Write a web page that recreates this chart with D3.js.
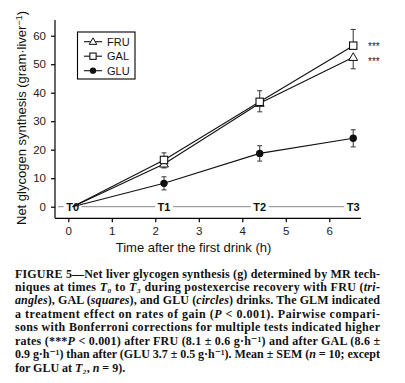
<!DOCTYPE html>
<html><head><meta charset="utf-8">
<script src="https://cdn.jsdelivr.net/npm/d3@7"></script>
<style>body{margin:0;background:#fff}svg{display:block}</style>
</head><body>
<script>
const times = [0.1, 2.2, 4.4, 6.55];
const timeLabels = ["T0","T1","T2","T3"];
const fruMean = [0, 15.0, 36.3, 52.4];
const fruSem  = [0, 1.4, 3.0, 4.0];
const galMean = [0, 16.4, 36.8, 56.5];
const galSem  = [0, 2.5, 3.9, 5.7];
const gluMean = [0, 8.2, 18.7, 24.0];
const gluSem  = [0, 2.3, 2.7, 3.0];
const xTicks = [0,1,2,3,4,5,6];
const yTicks = [0,10,20,30,40,50,60];
const legendNames = ["FRU","GAL","GLU"];

const W=405,H=383;
const svg=d3.select("body").append("svg").attr("width",W).attr("height",H);
const x=d3.scaleLinear().domain([0,6]).range([68.3,329.3]);
const y=d3.scaleLinear().domain([0,60]).range([206.7,35.7]);
const xMin=x.invert(55), xMax=x.invert(361), yMin=y.invert(218.3), yMax=y.invert(20);

const font="Liberation Sans, Arial, sans-serif";
// axes
const gx=svg.append("g").attr("transform",`translate(0,${y(yMin)})`)
  .call(d3.axisBottom(x).tickValues(xTicks).tickFormat(d3.format("d")).tickSize(4).tickPadding(5).tickSizeOuter(0));
gx.select(".domain").attr("d",`M${x(xMin)},0H${x(xMax)}`);
const gy=svg.append("g").attr("transform",`translate(${x(xMin)},0)`)
  .call(d3.axisLeft(y).tickValues(yTicks).tickFormat(d3.format("d")).tickSize(4).tickPadding(5).tickSizeOuter(0));
gy.select(".domain").attr("d",`M0,${y(yMax)}V${y(yMin)}`);
svg.selectAll(".tick text").attr("font-family",font).attr("font-size",11.5).attr("fill","#222");
svg.selectAll(".domain,.tick line").attr("stroke","#000").attr("stroke-width",1.2);

// axis titles
svg.append("text").attr("x",193.5).attr("y",252).attr("text-anchor","middle")
  .attr("font-family",font).attr("font-size",13).attr("fill","#111").text("Time after the first drink (h)");
const yl=svg.append("text").attr("transform",`translate(26,118) rotate(-90)`).attr("text-anchor","middle")
  .attr("font-family",font).attr("font-size",13).attr("fill","#111");
yl.append("tspan").text("Net glycogen synthesis (gram·liver");
yl.append("tspan").attr("dy",-4).attr("font-size",9).text("−1");
yl.append("tspan").attr("dy",4).text(")");

// zero reference line with time labels
svg.append("line").attr("x1",x(xMin)+3).attr("x2",x(6.65)).attr("y1",y(0)).attr("y2",y(0))
  .attr("stroke","#888").attr("stroke-width",1);
const tl=svg.append("g").selectAll("g").data(timeLabels).join("g")
  .attr("transform",(d,i)=>`translate(${x(times[i])},${y(0)})`);
tl.append("rect").attr("x",-9).attr("y",-6).attr("width",18).attr("height",12).attr("fill","#fff");
tl.append("text").attr("text-anchor","middle").attr("dy","0.36em").attr("font-family",font)
  .attr("font-weight","bold").attr("font-size",11).attr("fill","#111").text(d=>d);

// series
const series=[
 {name:"FRU",m:fruMean,s:fruSem,dir:-1,sym:"tri"},
 {name:"GAL",m:galMean,s:galSem,dir:1,sym:"sq"},
 {name:"GLU",m:gluMean,s:gluSem,dir:0,sym:"circ"}];
const line=d3.line().x((d,i)=>x(times[i])).y(d=>y(d));
series.forEach(sr=>{
  svg.append("path").attr("d",line(sr.m)).attr("fill","none").attr("stroke","#111").attr("stroke-width",1.1);
});
// error bars
series.forEach(sr=>{
  const g=svg.append("g").attr("stroke","#444").attr("stroke-width",1.1);
  sr.m.forEach((v,i)=>{
    if(i===0) return;
    const px=x(times[i]);
    const ends=[];
    if(sr.dir>=0) ends.push(v+sr.s[i]);
    if(sr.dir<=0) ends.push(v-sr.s[i]);
    ends.forEach(e=>{
      g.append("line").attr("x1",px).attr("x2",px).attr("y1",y(v)).attr("y2",y(e));
      g.append("line").attr("x1",px-2.5).attr("x2",px+2.5).attr("y1",y(e)).attr("y2",y(e));
    });
  });
});
function drawSym(g,sym,cx,cy,scale){
  const k=scale||1;
  if(sym==="tri") g.append("path").attr("d",d3.symbol(d3.symbolTriangle,34*k*k)()).attr("transform",`translate(${cx},${cy+0.5})`)
     .attr("fill","#fff").attr("stroke","#111").attr("stroke-width",1);
  else if(sym==="sq") g.append("rect").attr("x",cx-3.7*k).attr("y",cy-3.7*k).attr("width",7.4*k).attr("height",7.4*k)
     .attr("fill","#fff").attr("stroke","#111").attr("stroke-width",1.1);
  else g.append("circle").attr("cx",cx).attr("cy",cy).attr("r",3.7*k).attr("fill","#111");
}
[series[2],series[0],series[1]].forEach(sr=>{
  const g=svg.append("g");
  sr.m.forEach((v,i)=>{ if(i>0) drawSym(g,sr.sym,x(times[i]),y(v)); });
});
// significance stars
svg.append("text").attr("x",368).attr("y",y(galMean[3])+4).attr("font-family",font).attr("font-size",10).attr("fill","#222").text("***");
svg.append("text").attr("x",368).attr("y",y(fruMean[3])+8).attr("font-family",font).attr("font-size",10).attr("fill","#222").text("***");

// legend
const lg=svg.append("g");
lg.append("rect").attr("x",77.5).attr("y",32).attr("width",57.5).attr("height",47).attr("fill","#fff").attr("stroke","#000").attr("stroke-width",1.1);
legendNames.forEach((n,i)=>{
  const cy=41.7+i*14.5;
  lg.append("line").attr("x1",84).attr("x2",102).attr("y1",cy).attr("y2",cy).attr("stroke","#111").attr("stroke-width",1.1);
  drawSym(lg,series[i].sym,93,cy,0.85);
  lg.append("text").attr("x",107).attr("y",cy).attr("dy","0.36em").attr("font-family",font).attr("font-size",11).attr("fill","#111").text(n);
});

// caption
const cap=svg.append("g").attr("font-family","Liberation Serif, DejaVu Serif, serif").attr("font-weight","bold").attr("font-size",12).attr("fill","#111");
const lines=[
 [["FIGURE 5—Net liver glycogen synthesis (g) determined by MR tech-"]],
 [["niques at times "],["T₀","i"],[" to "],["T₃","i"],[" during postexercise recovery with FRU ("],["tri-","i"]],
 [["angles","i"],["), GAL ("],["squares","i"],["), and GLU ("],["circles","i"],[") drinks. The GLM indicated"]],
 [["a treatment effect on rates of gain ("],["P","i"],[" < 0.001). Pairwise compari-"]],
 [["sons with Bonferroni corrections for multiple tests indicated higher"]],
 [["rates (***"],["P","i"],[" < 0.001) after FRU (8.1 ± 0.6 g·h⁻¹) and after GAL (8.6 ±"]],
 [["0.9 g·h⁻¹) than after (GLU 3.7 ± 0.5 g·h⁻¹). Mean ± SEM ("],["n","i"],[" = 10; except"]],
 [["for GLU at "],["T₂","i"],[", "],["n","i"],[" = 9)."]]
];
lines.forEach((ln,li)=>{
  const t=cap.append("text").attr("x",15).attr("y",277.5+li*13.45);
  if(li<7) t.attr("textLength",365).attr("lengthAdjust","spacing");
  ln.forEach(([s,st])=>{
    const ts=t.append("tspan").text(s);
    if(st==="i") ts.attr("font-style","italic");
  });
});
</script>
</body></html>
